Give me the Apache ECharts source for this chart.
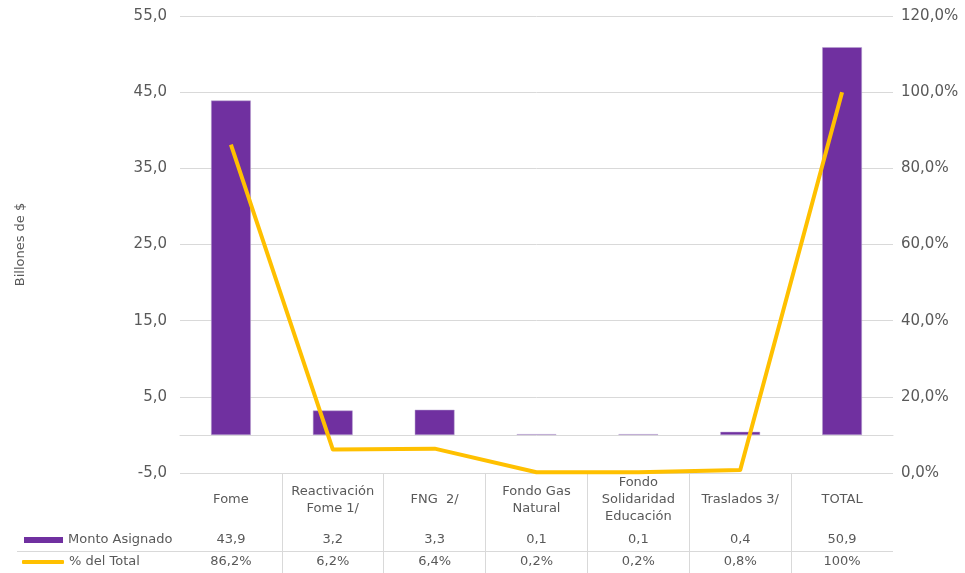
<!DOCTYPE html>
<html>
<head>
<meta charset="utf-8">
<script src="https://cdn.jsdelivr.net/npm/echarts@6/dist/echarts.min.js"></script>
<style>html,body{margin:0;padding:0;background:#fff}#c{width:965px;height:573px}</style>
</head>
<body>
<div id="c"></div>
<script>
// ---- data ----
const categories = ['Fome', 'Reactivación\nFome 1/', 'FNG  2/', 'Fondo Gas\nNatural', 'Fondo\nSolidaridad\nEducación', 'Traslados 3/', 'TOTAL'];
const montoAsignado = [43.9, 3.2, 3.3, 0.1, 0.1, 0.4, 50.9];
const pctTotal = [86.2, 6.2, 6.4, 0.2, 0.2, 0.8, 100];
const leftTicks = { min: -5, max: 55, interval: 10 };
const rightTicks = { min: 0, max: 120, interval: 20 };
const seriesNames = ['Monto Asignado', '% del Total'];

const FONT = '"Century Gothic", "DejaVu Sans", sans-serif';
const GREY = '#595959';
const LINE = '#d9d9d9';
const comma = v => v.toFixed(1).replace('.', ',');
const pctLabel = v => (v === 100 ? '100' : comma(v)) + '%';

const chart = echarts.init(document.getElementById('c'), null, { renderer: 'canvas' });
const hiddenAxis = { axisLine: { show: false }, axisTick: { show: false }, splitLine: { show: false } };

chart.setOption({
  animation: false,
  textStyle: { fontFamily: FONT, color: GREY },
  grid: [
    { left: 180, right: 72, top: 16, bottom: 100, outerBoundsMode: 'none', containLabel: false },
    { left: 180, right: 72, top: 473, height: 100, outerBoundsMode: 'none', containLabel: false }
  ],
  legend: [
    { data: [{ name: seriesNames[0], icon: 'rect' }], left: 24, top: 533, padding: 0, itemWidth: 39, itemHeight: 6, itemGap: 5,
      itemStyle: { borderWidth: 0 },
      textStyle: { fontFamily: FONT, color: GREY, fontSize: 13, lineHeight: 14 } },
    { data: [{ name: seriesNames[1], icon: 'roundRect' }], left: 22, top: 555, padding: 0, itemWidth: 42, itemHeight: 4, itemGap: 5,
      textStyle: { fontFamily: FONT, color: GREY, fontSize: 13, lineHeight: 14 } }
  ],
  xAxis: [
    { type: 'category', gridIndex: 0, position: 'bottom', data: categories,
      axisLine: { show: true, lineStyle: { color: LINE, width: 1 } }, axisTick: { show: false }, splitLine: { show: false },
      axisLabel: { interval: 0, margin: 27, verticalAlign: 'middle', fontSize: 13, lineHeight: 17, color: GREY, fontFamily: FONT } },
    Object.assign({ type: 'category', gridIndex: 0, position: 'bottom', data: montoAsignado.map(comma),
      axisLabel: { interval: 0, margin: 67, verticalAlign: 'middle', fontSize: 13, color: GREY, fontFamily: FONT } }, hiddenAxis),
    Object.assign({ type: 'category', gridIndex: 0, position: 'bottom', data: pctTotal.map(pctLabel),
      axisLabel: { interval: 0, margin: 89, verticalAlign: 'middle', fontSize: 13, color: GREY, fontFamily: FONT } }, hiddenAxis),
    { type: 'category', gridIndex: 1, data: categories, axisLine: { show: false }, axisTick: { show: false }, axisLabel: { show: false },
      splitLine: { show: true, showMinLine: false, showMaxLine: false, lineStyle: { color: LINE, width: 1 } } }
  ],
  yAxis: [
    { type: 'value', gridIndex: 0, min: leftTicks.min, max: leftTicks.max, interval: leftTicks.interval,
      name: 'Billones de $', nameLocation: 'middle', nameGap: 153, nameRotate: 90,
      nameTextStyle: { fontSize: 13, color: GREY, fontFamily: FONT },
      axisLine: { show: false }, axisTick: { show: false },
      splitLine: { show: true, lineStyle: { color: LINE, width: 1 } },
      axisLabel: { margin: 13, fontSize: 15, color: GREY, fontFamily: FONT, formatter: v => comma(v) } },
    { type: 'value', gridIndex: 0, position: 'right', min: rightTicks.min, max: rightTicks.max, interval: rightTicks.interval,
      axisLine: { show: false }, axisTick: { show: false }, splitLine: { show: false },
      axisLabel: { margin: 8, fontSize: 15, color: GREY, fontFamily: FONT, formatter: v => comma(v) + '%' } },
    { type: 'value', gridIndex: 1, show: false }
  ],
  graphic: [
    { type: 'line', shape: { x1: 17, y1: 551.5, x2: 893, y2: 551.5 }, style: { stroke: LINE, lineWidth: 1 }, silent: true }
  ],
  series: [
    { name: seriesNames[0], type: 'bar', xAxisIndex: 0, yAxisIndex: 0, data: montoAsignado, barWidth: '39%',
      itemStyle: { color: '#7030A0', borderColor: '#b7a2cf', borderWidth: 0.5 } },
    { name: seriesNames[1], type: 'line', xAxisIndex: 0, yAxisIndex: 1, data: pctTotal, symbol: 'none', z: 5,
      lineStyle: { color: '#FFC000', width: 4, join: 'round' }, itemStyle: { color: '#FFC000' } }
  ]
});
</script>
</body>
</html>
